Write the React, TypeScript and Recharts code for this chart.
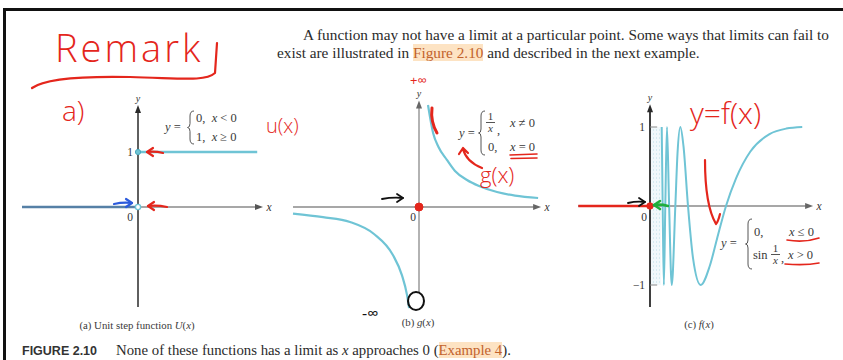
import React from 'react';
import { ComposedChart, Line, XAxis, YAxis, ReferenceLine, ReferenceDot, ReferenceArea } from 'recharts';

const SERIF = '"Liberation Serif", "Times New Roman", serif';
const SANS = '"Liberation Sans", Arial, sans-serif';
const HAND = '"Open Sans", sans-serif';
const CYAN = '#6fc4d5';
const STEEL = '#5680a6';
const AXIS = '#8a8a8a';
const RED = '#e4261c';
const INK = '#333';

// (a) unit step U(x)
const stepOff = [{ x: -2.9, y: 0 }, { x: 0, y: 0 }];
const stepOn = [{ x: 0, y: 1 }, { x: 2.98, y: 1 }];

// (b) g(x): 1/x away from the origin, 0 at the origin
const gNeg = [
  { x: -4.2, y: -0.22 }, { x: -3.2, y: -0.34 }, { x: -2.3, y: -0.5 }, { x: -1.5, y: -0.9 },
  { x: -0.87, y: -1.6 }, { x: -0.57, y: -2.27 }, { x: -0.4, y: -2.93 }, { x: -0.33, y: -3.37 },
];
const gPos = [
  { x: 0.3, y: 3.4 }, { x: 0.47, y: 2.47 }, { x: 0.65, y: 2.0 }, { x: 0.93, y: 1.57 },
  { x: 1.2, y: 1.2 }, { x: 1.6, y: 0.9 }, { x: 2.0, y: 0.7 }, { x: 2.6, y: 0.5 },
  { x: 3.2, y: 0.38 }, { x: 3.97, y: 0.3 },
];

// (c) f(x): 0 for x <= 0, sin(1/x) for x > 0
const fNeg = [{ x: -0.3, y: 0 }, { x: 0, y: 0 }];
const fPos = [
  { x: 0.049, y: 1 }, { x: 0.053, y: 0 }, { x: 0.058, y: -1 }, { x: 0.064, y: 0 },
  { x: 0.071, y: 1 }, { x: 0.08, y: 0 }, { x: 0.091, y: -1 }, { x: 0.106, y: 0 },
  { x: 0.115, y: 0.66 }, { x: 0.127, y: 1 }, { x: 0.14, y: 0.76 }, { x: 0.159, y: 0 },
  { x: 0.18, y: -0.66 }, { x: 0.212, y: -1 }, { x: 0.25, y: -0.76 }, { x: 0.28, y: -0.42 },
  { x: 0.318, y: 0 }, { x: 0.36, y: 0.35 }, { x: 0.42, y: 0.69 }, { x: 0.5, y: 0.91 },
  { x: 0.57, y: 0.98 }, { x: 0.637, y: 1 },
];
const fTicks = [1, -1];

type Frame = { left: number; top: number; width: number; height: number; ox: number; oy: number; sx: number; sy: number };

const frameA: Frame = { left: 10, top: 85, width: 265, height: 240, ox: 138, oy: 207, sx: 40, sy: 55 };
const frameB: Frame = { left: 285, top: 85, width: 270, height: 235, ox: 419, oy: 207, sx: 30, sy: 30 };
const frameC: Frame = { left: 565, top: 85, width: 270, height: 235, ox: 650, oy: 206, sx: 239, sy: 79 };

function domains(f: Frame) {
  return {
    xd: [-(f.ox - f.left) / f.sx, (f.left + f.width - f.ox) / f.sx],
    yd: [-(f.top + f.height - f.oy) / f.sy, (f.oy - f.top) / f.sy],
  };
}

// arrow tips at the ends of the axes
const head = (dir: 'right' | 'up', color: string) => (p: any) => {
  const { cx, cy } = p;
  const d = dir === 'right'
    ? `M${cx + 3},${cy} L${cx - 5},${cy - 3} L${cx - 5},${cy + 3} Z`
    : `M${cx},${cy - 3} L${cx - 3},${cy + 5} L${cx + 3},${cy + 5} Z`;
  return <path d={d} fill={color} />;
};

// small serif text placed next to a point
const note = (text: string, dx: number, dy: number, italic = false, size = 11.5) => (p: any) => (
  <text x={p.cx + dx} y={p.cy + dy} fontSize={size} fontFamily={SERIF} fontStyle={italic ? 'italic' : 'normal'}
    textAnchor="middle" dominantBaseline="central" fill={INK}>{text}</text>
);

// pen arrows pointing at a point
const penArrow = (x1: number, x2: number, dy: number, color: string, w = 2.2) => (p: any) => {
  const y = p.cy + dy;
  const a = p.cx + x1;
  const b = p.cx + x2;
  const s = Math.sign(a - b);
  return (
    <g stroke={color} strokeWidth={w} fill="none" strokeLinecap="round" strokeLinejoin="round">
      <path d={`M${a},${y + 1} Q${(a + b) / 2},${y - 1} ${b},${y}`} />
      <path d={`M${b + s * 6},${y - 4} L${b},${y} L${b + s * 6},${y + 4}`} />
    </g>
  );
};

function Panel({ frame, children }: { frame: Frame; children: React.ReactNode }) {
  const { xd, yd } = domains(frame);
  return (
    <div style={{ position: 'absolute', left: frame.left, top: frame.top }}>
      <ComposedChart width={frame.width} height={frame.height} margin={{ top: 0, right: 0, bottom: 0, left: 0 }}>
        <XAxis type="number" dataKey="x" domain={xd} hide allowDataOverflow />
        <YAxis type="number" dataKey="y" domain={yd} hide allowDataOverflow />
        {children}
      </ComposedChart>
    </div>
  );
}

function T({ x, y, size = 12.5, children, italic, color, family, weight, center }: any) {
  return (
    <div style={{
      position: 'absolute', left: x, top: y - size * 0.65, fontSize: size, lineHeight: `${size * 1.3}px`,
      whiteSpace: 'nowrap', fontStyle: italic ? 'italic' : 'normal', color: color ?? '#3a3a3a',
      fontFamily: family ?? SERIF, fontWeight: weight ?? 'normal', transform: center ? 'translateX(-50%)' : undefined,
    }}>{children}</div>
  );
}

function Brace({ x, y, h }: { x: number; y: number; h: number }) {
  const m = h / 2;
  return (
    <svg style={{ position: 'absolute', left: x, top: y }} width={8} height={h}>
      <path d={`M7,1 Q3,1 3,6 L3,${m - 4} Q3,${m} 0.5,${m} Q3,${m} 3,${m + 4} L3,${h - 6} Q3,${h - 1} 7,${h - 1}`}
        fill="none" stroke="#555" strokeWidth={1} />
    </svg>
  );
}

const v = (s: string) => <i>{s}</i>;

function Frac({ x, y, top, bottom }: { x: number; y: number; top: string; bottom: string }) {
  return (
    <div style={{ position: 'absolute', left: x, top: y, width: 9, textAlign: 'center', fontSize: 11, lineHeight: '11px', color: '#3a3a3a' }}>
      <div>{top}</div>
      <div style={{ borderTop: '1px solid #555' }}><i>{bottom}</i></div>
    </div>
  );
}

function StepPanel() {
  return (
    <Panel frame={frameA}>
      <ReferenceLine segment={[{ x: -2.9, y: 0 }, { x: 3.05, y: 0 }]} stroke={AXIS} strokeWidth={1.3} ifOverflow="visible" />
      <ReferenceLine segment={[{ x: 0, y: -1.82 }, { x: 0, y: 1.78 }]} stroke="#2a2a2a" strokeWidth={1.5} ifOverflow="visible" />
      <ReferenceDot x={3.05} y={0} shape={head('right', '#555')} />
      <ReferenceDot x={0} y={1.8} shape={head('up', '#2a2a2a')} />
      <Line data={stepOff} dataKey="y" type="linear" stroke={STEEL} strokeWidth={2.5} dot={false} isAnimationActive={false} />
      <Line data={stepOn} dataKey="y" type="linear" stroke={CYAN} strokeWidth={2.5} dot={false} isAnimationActive={false} />
      <ReferenceDot x={0} y={0} r={2.6} fill="#fff" stroke={CYAN} strokeWidth={1.4} />
      <ReferenceDot x={0} y={1} r={2.6} fill={CYAN} stroke="#4aa9bd" strokeWidth={1} />
      <ReferenceDot x={0} y={1} shape={note('1', -8, 0)} />
      <ReferenceDot x={0} y={0} shape={note('0', -8, 10)} />
      <ReferenceDot x={0} y={1.8} shape={note('y', 0, -10, true, 10)} />
      <ReferenceDot x={3.05} y={0} shape={note('x', 9, 0, true)} />
      <ReferenceDot x={0} y={1} shape={penArrow(25, 9, 0, RED)} />
      <ReferenceDot x={0} y={0} shape={penArrow(29, 10, -1, RED)} />
      <ReferenceDot x={0} y={0} shape={penArrow(-24, -6, -4, '#2c5bdc')} />
    </Panel>
  );
}

function RecipPanel() {
  return (
    <Panel frame={frameB}>
      <ReferenceLine segment={[{ x: -4.2, y: 0 }, { x: 3.97, y: 0 }]} stroke={AXIS} strokeWidth={1.3} ifOverflow="visible" />
      <ReferenceLine segment={[{ x: 0, y: -2.83 }, { x: 0, y: 3.4 }]} stroke={AXIS} strokeWidth={1.3} ifOverflow="visible" />
      <ReferenceDot x={3.97} y={0} shape={head('right', '#666')} />
      <ReferenceDot x={0} y={3.45} shape={head('up', '#666')} />
      <Line data={gNeg} dataKey="y" type="monotone" stroke={CYAN} strokeWidth={2.2} dot={false} isAnimationActive={false} />
      <Line data={gPos} dataKey="y" type="monotone" stroke={CYAN} strokeWidth={2.2} dot={false} isAnimationActive={false} />
      <ReferenceDot x={0} y={0} r={4} fill={RED} stroke={RED} />
      <ReferenceDot x={0} y={0} shape={note('0', -6, 10)} />
      <ReferenceDot x={0} y={3.45} shape={note('y', 0, -10, true, 10)} />
      <ReferenceDot x={3.97} y={0} shape={note('x', 9, 0, true)} />
      <ReferenceDot x={0} y={0} shape={penArrow(-37, -16, -9, '#111', 1.8)} />
    </Panel>
  );
}

function SinPanel() {
  return (
    <Panel frame={frameC}>
      <ReferenceArea x1={0} x2={0.045} y1={-1} y2={1} fill="url(#hatch)" fillOpacity={1} stroke="none" ifOverflow="visible" />
      <ReferenceLine segment={[{ x: -0.3, y: 0 }, { x: 0.67, y: 0 }]} stroke={AXIS} strokeWidth={1.3} ifOverflow="visible" />
      <ReferenceLine segment={[{ x: 0, y: -1.28 }, { x: 0, y: 1.2 }]} stroke="#2a2a2a" strokeWidth={1.8} ifOverflow="visible" />
      {fTicks.map((t) => (
        <ReferenceLine key={t} segment={[{ x: 0, y: t }, { x: 0.03, y: t }]} stroke={AXIS} strokeWidth={1} ifOverflow="visible" />
      ))}
      <ReferenceDot x={0.67} y={0} shape={head('right', '#666')} />
      <ReferenceDot x={0} y={1.25} shape={head('up', '#2a2a2a')} />
      <Line data={fNeg} dataKey="y" type="linear" stroke={CYAN} strokeWidth={2} dot={false} isAnimationActive={false} />
      <Line data={fPos} dataKey="y" type="monotone" stroke={CYAN} strokeWidth={2} dot={false} isAnimationActive={false} />
      <ReferenceLine segment={[{ x: -0.3, y: 0 }, { x: -0.01, y: 0 }]} stroke={RED} strokeWidth={2.4} ifOverflow="visible" />
      <ReferenceDot x={0} y={1} shape={note('1', -8, 0)} />
      <ReferenceDot x={0} y={-1} shape={note('\u22121', -11, 0)} />
      <ReferenceDot x={0} y={0} shape={note('0', -6, 11)} />
      <ReferenceDot x={0} y={1.25} shape={note('y', 0, -10, true, 10)} />
      <ReferenceDot x={0.67} y={0} shape={note('x', 9, 0, true)} />
      <ReferenceDot x={0} y={0} r={3.2} fill={RED} stroke={RED} />
      <ReferenceDot x={0} y={0} shape={penArrow(18, 4, -1, '#1fae3c', 2.6)} />
      <ReferenceDot x={0} y={0} shape={penArrow(-22, -5, -4, '#111', 1.8)} />
    </Panel>
  );
}

// ink strokes written over the printed page
function PenMarks() {
  return (
    <svg style={{ position: 'absolute', left: 0, top: 0 }} width={843} height={360}>
      <defs>
        <pattern id="hatch" width={3} height={4} patternUnits="userSpaceOnUse">
          <rect width={3} height={4} fill="#f1f8fb" />
          <rect x={1} y={0} width={1} height={2} fill="#d6ebf1" />
        </pattern>
      </defs>
      <g fill="none" stroke={RED} strokeWidth={2.2} strokeLinecap="round" strokeLinejoin="round">
        <path d="M32,88 C44,79 80,76 130,77 S205,82 215,73 L217,43" />
        <path d="M432,108 C431,116 433,126 437,133" strokeWidth={3} />
        <path d="M482,168 C472,164 465,157 463,149 M459,154 L463,148 L468,153" />
        <path d="M510,155 L537,154 M511,158.5 L537,158" strokeWidth={1.6} />
        <path d="M705,160 C705,188 709,212 716,224 C718,222 719,218 720,214" />
        <path d="M787,240 C798,242 810,241 819,238" strokeWidth={1.6} />
        <path d="M785,264 C797,265 809,265 819,263" strokeWidth={1.6} />
      </g>
      <ellipse cx={416} cy={301} rx={8} ry={9} fill="none" stroke="#111" strokeWidth={2} />
    </svg>
  );
}

export default function App() {
  return (
    <div style={{ position: 'absolute', left: 0, top: 0, width: 843, height: 360, background: '#fff', overflow: 'hidden', fontFamily: SERIF, color: '#2b2b2b' }}>
      <div style={{ position: 'absolute', left: 3, top: 8, right: -5, bottom: -10, borderTop: '3px solid #111', borderLeft: '3px solid #111' }} />

      <T x={303} y={35} size={15.3} color="#2b2b2b">
        A function may not have a limit at a particular point. Some ways that limits can fail to
      </T>
      <T x={277} y={53} size={15.3} color="#2b2b2b">
        exist are illustrated in <span style={{ background: '#fde3c3', color: '#c2622c' }}>Figure 2.10</span> and described in the next example.
      </T>

      <StepPanel />
      <RecipPanel />
      <SinPanel />

      {/* piecewise definitions */}
      <T x={165} y={127}>{v('y')} =</T>
      <Brace x={187} y={110} h={35} />
      <T x={196} y={118}>0,&nbsp; {v('x')} &lt; 0</T>
      <T x={196} y={137}>1,&nbsp; {v('x')} ≥ 0</T>

      <T x={459} y={133}>{v('y')} =</T>
      <Brace x={478} y={110} h={46} />
      <Frac x={486} y={111} top="1" bottom="x" />
      <T x={497} y={130}>,</T>
      <T x={510} y={123}>{v('x')} ≠ 0</T>
      <T x={488} y={147}>0,</T>
      <T x={510} y={147}>{v('x')} = 0</T>

      <T x={721} y={243}>{v('y')} =</T>
      <Brace x={745} y={218} h={52} />
      <T x={754} y={232}>0,</T>
      <T x={789} y={232}>{v('x')} ≤ 0</T>
      <T x={753} y={255}>sin</T>
      <Frac x={771} y={243} top="1" bottom="x" />
      <T x={781} y={258}>,</T>
      <T x={788} y={255}>{v('x')} &gt; 0</T>

      <T x={137} y={325} size={10.8} center>(a) Unit step function {v('U')}({v('x')})</T>
      <T x={418} y={322} size={10.8} center>(b) {v('g')}({v('x')})</T>
      <T x={699} y={324} size={10.8} center>(c) {v('f')}({v('x')})</T>

      <T x={22} y={351} size={12.5} family={SANS} weight="bold" color="#333">FIGURE 2.10</T>
      <T x={116} y={351} size={14.8} color="#2b2b2b">
        None of these functions has a limit as {v('x')} approaches 0 (<span style={{ background: '#fde3c3', color: '#c2622c' }}>Example 4</span>).
      </T>

      {/* handwritten notes */}
      <T x={55} y={48} size={38} family={HAND} weight={300} color={RED}><span style={{ letterSpacing: 3 }}>Remark</span></T>
      <T x={62} y={110} size={28} family={HAND} weight={300} color={RED}>a)</T>
      <T x={266} y={126} size={20} family={HAND} weight={300} color={RED}>u(x)</T>
      <T x={410} y={80} size={13} family={HAND} weight={400} color={RED}>+∞</T>
      <T x={480} y={174} size={22} family={HAND} weight={300} color={RED}>g(x)</T>
      <T x={362} y={313} size={16} family={HAND} weight={400} color="#111">-∞</T>
      <T x={690} y={112} size={30} family={HAND} weight={300} color={RED}>y=f(x)</T>

      <PenMarks />
    </div>
  );
}
